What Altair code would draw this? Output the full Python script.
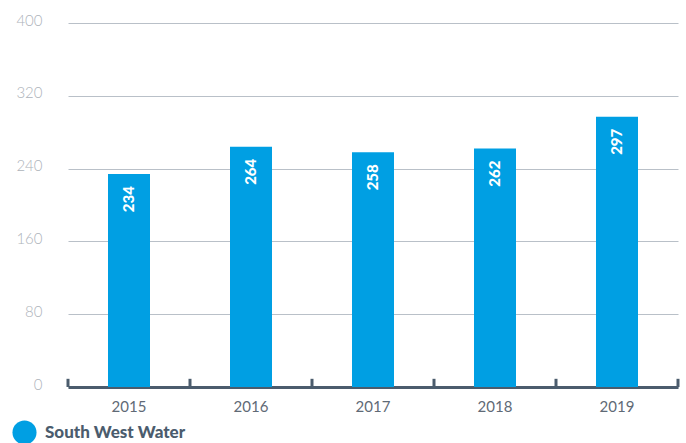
import altair as alt
import pandas as pd

years = ["2015", "2016", "2017", "2018", "2019"]
values = [234, 264, 258, 262, 297]
series = "South West Water"
y_ticks = [0, 80, 160, 240, 320, 400]

df = pd.DataFrame({"year": years, "value": values, "series": [series] * len(years)})
ticks_start = pd.DataFrame({"year": years, "y0": [0] * len(years), "y1": [9] * len(years)})
ticks_end = pd.DataFrame({"year": [years[-1]], "y0": [0], "y1": [9]})

FONT = "Lato"
BLUE = "#009fe3"
SLATE = "#4b5c6d"

xscale = alt.Scale(domain=years, paddingInner=0, paddingOuter=0)
yscale = alt.Scale(domain=[0, 400])

bars = alt.Chart(df).mark_bar(size=42, color=BLUE).encode(
    x=alt.X("year:O", scale=xscale, sort=years,
            axis=alt.Axis(title=None, labelAngle=0, ticks=False, domain=True,
                          domainColor=SLATE, domainWidth=3, labelFont=FONT,
                          labelFontSize=15, labelColor="#5f6a76", labelPadding=12,
                          grid=False)),
    y=alt.Y("value:Q", scale=yscale,
            axis=alt.Axis(title=None, values=y_ticks, ticks=False, domain=False,
                          grid=True, gridColor="#b9c0c8", gridWidth=1,
                          labelFont=FONT, labelFontSize=15, labelColor="#adb3ba",
                          labelFontWeight=300,
                          labelPadding=26, labelOffset=-3)),
    color=alt.Color("series:N", scale=alt.Scale(domain=[series], range=[BLUE]),
                    legend=alt.Legend(title=None, orient="none", legendX=-56, legendY=397,
                                      symbolType="circle", symbolSize=580,
                                      symbolStrokeWidth=0, labelFont=FONT,
                                      labelFontSize=17, labelFontWeight=900,
                                      labelColor=SLATE, padding=0, labelOffset=8)),
)

labels = alt.Chart(df).mark_text(
    angle=270, align="right", baseline="middle", dx=-12, color="white",
    font=FONT, fontSize=15, fontWeight=900
).encode(
    x=alt.X("year:O", scale=xscale, sort=years),
    y=alt.Y("value:Q", scale=yscale),
    text=alt.Text("value:Q"),
)

t1 = alt.Chart(ticks_start).mark_rule(color=SLATE, strokeWidth=3).encode(
    x=alt.X("year:O", scale=xscale, sort=years, bandPosition=0),
    y=alt.Y("y0:Q", scale=yscale),
    y2="y1:Q",
)
t2 = alt.Chart(ticks_end).mark_rule(color=SLATE, strokeWidth=3).encode(
    x=alt.X("year:O", scale=xscale, sort=years, bandPosition=1),
    y=alt.Y("y0:Q", scale=yscale),
    y2="y1:Q",
)

chart = alt.layer(bars, labels, t1, t2).properties(
    width=610, height=364,
    background="white",
    autosize=alt.AutoSizeParams(type="none"),
    padding={"left": 68, "top": 23, "right": 8, "bottom": 56},
).configure_view(stroke="transparent", strokeWidth=0)

chart.save("out.html", embed_options={"renderer": "svg", "actions": False})
